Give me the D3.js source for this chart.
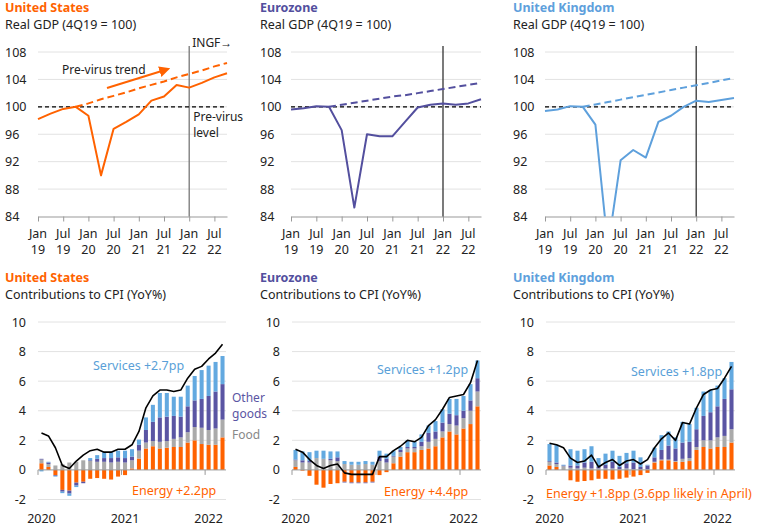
<!DOCTYPE html>
<html lang="en">
<head>
<meta charset="utf-8">
<title>GDP and CPI contributions</title>
<script src="https://d3js.org/d3.v7.min.js"></script>
<style>
    body { margin: 0; background: #fff; }
    svg { font-family: "Noto Sans", sans-serif; }
</style>
</head>
<body>
<div id="chart"></div>
<script>
    // ---- GDP data (quarterly, 4Q19 = 100)
    const quarters = ["1Q19", "2Q19", "3Q19", "4Q19", "1Q20", "2Q20", "3Q20", "4Q20",
        "1Q21", "2Q21", "3Q21", "4Q21", "1Q22", "2Q22", "3Q22", "4Q22"];
    const gdpUS = [98.2, 99.0, 99.7, 100.0, 98.7, 90.0, 96.8, 97.8, 98.9, 100.9, 101.5, 103.2, 102.8, 103.5, 104.3, 104.9];
    const gdpEZ = [99.6, 99.8, 100.1, 100.0, 96.6, 85.3, 96.0, 95.7, 95.7, 97.8, 99.9, 100.3, 100.5, 100.3, 100.5, 101.1];
    const gdpUK = [99.4, 99.6, 100.1, 100.0, 97.4, 79.5, 92.2, 93.7, 92.6, 97.8, 98.7, 100.0, 100.9, 100.7, 101.0, 101.3];
    const trendUS = [null, null, null, 100, 100.5, 101.1, 101.6, 102.1, 102.7, 103.2, 103.7, 104.3, 104.8, 105.3, 105.9, 106.4];
    const trendEZ = [null, null, null, 100, 100.3, 100.6, 100.9, 101.2, 101.5, 101.7, 102.0, 102.3, 102.6, 102.9, 103.2, 103.5];
    const trendUK = [null, null, null, 100, 100.35, 100.7, 101.05, 101.4, 101.75, 102.1, 102.45, 102.8, 103.15, 103.5, 103.85, 104.2];
    const gdpTicks = [84, 88, 92, 96, 100, 104, 108];
    const gdpTickQuarters = ["1Q19", "3Q19", "1Q20", "3Q20", "1Q21", "3Q21", "1Q22", "3Q22"];
    const gdpTickMonths = ["Jan", "Jul", "Jan", "Jul", "Jan", "Jul", "Jan", "Jul"];
    const gdpTickYears = ["19", "19", "20", "20", "21", "21", "22", "22"];
    const forecastStart = "1Q22";

    // ---- CPI contributions (monthly, YoY%)
    const months = ["Jan 20", "Feb 20", "Mar 20", "Apr 20", "May 20", "Jun 20", "Jul 20", "Aug 20", "Sep 20",
        "Oct 20", "Nov 20", "Dec 20", "Jan 21", "Feb 21", "Mar 21", "Apr 21", "May 21", "Jun 21", "Jul 21",
        "Aug 21", "Sep 21", "Oct 21", "Nov 21", "Dec 21", "Jan 22", "Feb 22", "Mar 22"];
    const cpiYearMonths = ["Jan 20", "Jan 21", "Jan 22"];
    const cpiYears = ["2020", "2021", "2022"];
    const cpiTicks = [-2, 0, 2, 4, 6, 8, 10];

    const cpiUS = [2.5, 2.3, 1.5, 0.3, 0.1, 0.6, 1.0, 1.3, 1.4, 1.2, 1.2, 1.4, 1.4, 1.7, 2.6, 4.2, 5.0, 5.4, 5.4, 5.3, 5.4, 6.2, 6.8, 7.0, 7.5, 7.9, 8.5];
    const energyUS = [0.45, 0.2, -0.35, -1.35, -1.4, -0.86, -0.8, -0.6, -0.55, -0.6, -0.65, -0.45, -0.35, 0.1, 0.77, 1.45, 1.6, 1.45, 1.5, 1.55, 1.55, 1.85, 2.0, 1.75, 1.7, 1.7, 2.2];
    const foodUS = [0.25, 0.2, 0.3, 0.4, 0.5, 0.55, 0.65, 0.6, 0.55, 0.55, 0.5, 0.55, 0.5, 0.55, 0.53, 0.4, 0.35, 0.45, 0.45, 0.55, 0.65, 0.7, 0.9, 1.1, 1.0, 1.1, 1.2];
    const goodsUS = [0.05, 0.1, -0.05, -0.12, -0.2, -0.2, -0.1, 0.05, 0.2, 0.25, 0.3, 0.3, 0.3, 0.25, 0.4, 0.85, 1.3, 1.65, 1.65, 1.55, 1.4, 1.75, 1.8, 1.95, 2.3, 2.5, 2.4];
    const servicesUS = [-0.1, 0.05, -0.05, -0.1, -0.15, -0.1, 0.0, 0.15, 0.25, 0.4, 0.4, 0.45, 0.5, 0.5, 0.35, 0.85, 1.15, 1.65, 1.6, 1.3, 1.35, 1.4, 1.65, 1.95, 2.05, 2.0, 1.9];

    const cpiEZ = [1.4, 1.2, 0.7, 0.3, 0.1, 0.3, 0.4, -0.2, -0.3, -0.3, -0.3, -0.3, 0.9, 0.9, 1.3, 1.6, 2.0, 1.9, 2.2, 3.0, 3.4, 4.1, 4.9, 5.0, 5.1, 5.9, 7.4];
    const energyEZ = [0.2, -0.05, -0.4, -1.0, -1.2, -0.95, -0.9, -0.8, -0.85, -0.85, -0.85, -0.8, -0.35, -0.15, 0.45, 0.9, 1.2, 1.2, 1.35, 1.45, 1.6, 2.2, 2.6, 2.4, 2.8, 3.1, 4.3];
    const foodEZ = [0.45, 0.5, 0.5, 0.8, 0.75, 0.65, 0.6, 0.4, 0.35, 0.35, 0.4, 0.35, 0.6, 0.5, 0.45, 0.3, 0.25, 0.25, 0.25, 0.45, 0.5, 0.4, 0.5, 0.6, 0.7, 0.9, 1.0];
    const goodsEZ = [0.05, 0.15, 0.1, 0.0, 0.0, 0.1, 0.25, -0.05, -0.05, -0.05, -0.05, -0.05, 0.3, 0.25, 0.05, 0.15, 0.1, 0.1, 0.3, 0.6, 0.5, 0.6, 0.7, 0.7, 0.5, 0.7, 0.9];
    const servicesEZ = [0.65, 0.6, 0.6, 0.5, 0.55, 0.5, 0.4, 0.2, 0.2, 0.2, 0.2, 0.2, 0.4, 0.35, 0.35, 0.2, 0.45, 0.35, 0.5, 0.5, 0.7, 0.9, 1.0, 1.1, 1.0, 1.1, 1.2];

    const cpiUK = [1.8, 1.7, 1.5, 0.8, 0.5, 0.6, 1.0, 0.2, 0.5, 0.7, 0.3, 0.6, 0.7, 0.4, 0.7, 1.5, 2.1, 2.5, 2.0, 3.2, 3.1, 4.2, 5.1, 5.4, 5.5, 6.2, 7.0];
    const energyUK = [0.3, 0.2, 0.0, -0.7, -0.8, -0.75, -0.7, -0.6, -0.6, -0.65, -0.6, -0.52, -0.45, -0.35, -0.2, 0.5, 0.65, 0.65, 0.55, 0.55, 0.6, 1.35, 1.55, 1.45, 1.55, 1.55, 1.85];
    const foodUK = [0.25, 0.2, 0.25, 0.15, 0.1, 0.15, 0.1, 0.1, 0.1, 0.1, 0.05, 0.1, 0.05, 0.05, 0.05, 0.05, 0.05, 0.05, 0.05, 0.2, 0.2, 0.2, 0.45, 0.55, 0.65, 0.75, 0.9];
    const goodsUK = [0.05, 0.1, 0.05, 0.15, 0.2, 0.35, 0.45, 0.1, 0.25, 0.45, 0.15, 0.35, 0.45, 0.15, 0.25, 0.3, 0.65, 0.95, 0.85, 1.1, 1.1, 1.2, 1.65, 1.9, 2.1, 2.5, 2.7];
    const servicesUK = [1.15, 1.2, 0.05, 1.1, 1.0, 0.9, 1.05, 0.6, 0.75, 0.75, 0.75, 0.7, 0.8, 0.65, 0.05, 0.65, 1.0, 0.95, 0.75, 1.4, 1.2, 1.45, 1.65, 1.5, 1.4, 1.4, 1.85];

    const keys = ["energy", "food", "goods", "services"];
    const barColors = { energy: "#ff6200", food: "#aaaaaa", goods: "#5a55a3", services: "#63a9e0" };

    const w = 757;
    const h = 531;
    const svg = d3.select("#chart").append("svg")
        .attr("width", w)
        .attr("height", h);

    const defs = svg.append("defs");
    defs.append("marker")
        .attr("id", "arrow")
        .attr("viewBox", "0 0 10 10")
        .attr("refX", 5).attr("refY", 5)
        .attr("markerWidth", 5.5).attr("markerHeight", 5.5)
        .attr("orient", "auto")
        .append("path")
        .attr("d", "M0,0 L10,5 L0,10 z")
        .attr("fill", "#ff6200");

    function gdpPanel(p, idx) {
        const g = svg.append("g");
        const x = d3.scalePoint().domain(quarters).range([p.x0, p.x1]);
        const y = d3.scaleLinear().domain([84, 108]).range([216.5, 52]);

        g.append("text").attr("x", p.tx).attr("y", 12)
            .attr("font-size", 12.5).attr("font-weight", "bold").attr("fill", p.color).text(p.name);
        g.append("text").attr("x", p.tx).attr("y", 29)
            .attr("font-size", 12.5).attr("fill", "#222").text("Real GDP (4Q19 = 100)");

        // grid lines
        g.selectAll("line.grid").data(gdpTicks.slice(1)).join("line")
            .attr("class", "grid")
            .attr("x1", p.x0).attr("x2", p.x1)
            .attr("y1", d => y(d)).attr("y2", d => y(d))
            .attr("stroke", "#e2e2e2");

        g.selectAll("text.ylab").data(gdpTicks).join("text")
            .attr("class", "ylab")
            .attr("x", p.tx).attr("y", d => y(d) + 4.5)
            .attr("font-size", 12.5).attr("fill", "#222")
            .text(d => d);

        // x axis
        const ax = g.append("g")
            .attr("transform", `translate(0,${y(84)})`)
            .call(d3.axisBottom(x).tickValues(gdpTickQuarters).tickSize(5).tickSizeOuter(0).tickFormat(""));
        ax.select(".domain").attr("stroke", "#999");
        ax.selectAll(".tick line").attr("stroke", "#999");

        g.selectAll("text.xm").data(gdpTickQuarters).join("text")
            .attr("class", "xm")
            .attr("x", d => x(d)).attr("y", 238)
            .attr("text-anchor", "middle").attr("font-size", 12.5).attr("fill", "#222")
            .text((d, i) => gdpTickMonths[i]);
        g.selectAll("text.xy").data(gdpTickQuarters).join("text")
            .attr("class", "xy")
            .attr("x", d => x(d)).attr("y", 254)
            .attr("text-anchor", "middle").attr("font-size", 12.5).attr("fill", "#222")
            .text((d, i) => gdpTickYears[i]);

        // forecast divider
        g.append("line")
            .attr("x1", x(forecastStart)).attr("x2", x(forecastStart))
            .attr("y1", 46).attr("y2", y(84))
            .attr("stroke", p.divider).attr("stroke-width", 1.3);

        // pre-virus level
        g.append("line")
            .attr("x1", p.x0).attr("x2", p.x1)
            .attr("y1", y(100)).attr("y2", y(100))
            .attr("stroke", "#000").attr("stroke-width", 1.3)
            .attr("stroke-dasharray", "4,3");

        const clipId = "clip" + idx;
        defs.append("clipPath").attr("id", clipId)
            .append("rect").attr("x", p.x0 - 2).attr("y", 40)
            .attr("width", p.x1 - p.x0 + 4).attr("height", y(84) - 40);

        const line = d3.line()
            .defined(d => d != null)
            .x((d, i) => x(quarters[i]))
            .y(d => y(d));

        g.append("path")
            .attr("d", line(p.trend))
            .attr("fill", "none").attr("stroke", p.color)
            .attr("stroke-width", 2).attr("stroke-dasharray", "7,4");

        g.append("path")
            .attr("d", line(p.gdp))
            .attr("clip-path", `url(#${clipId})`)
            .attr("fill", "none").attr("stroke", p.color)
            .attr("stroke-width", 2).attr("stroke-linejoin", "round");

        if (p.notes) {
            g.append("text").attr("x", x(forecastStart) + 3).attr("y", 47)
                .attr("font-size", 12).attr("fill", "#222").text("INGF\u2192");
            g.append("text").attr("x", 62).attr("y", 74)
                .attr("font-size", 12).attr("fill", "#222").text("Pre-virus trend");
            g.append("text").attr("x", x(forecastStart) + 4).attr("y", 121)
                .attr("font-size", 12).attr("fill", "#222").text("Pre-virus");
            g.append("text").attr("x", x(forecastStart) + 4).attr("y", 137)
                .attr("font-size", 12).attr("fill", "#222").text("level");
            g.append("line")
                .attr("x1", 107).attr("y1", 88).attr("x2", 165).attr("y2", 70)
                .attr("stroke", "#ff6200").attr("stroke-width", 2)
                .attr("marker-end", "url(#arrow)");
        }
    }

    function cpiPanel(p) {
        const g = svg.append("g");
        const x = d3.scaleBand().domain(months).range([p.x0, p.x1])
            .paddingInner(0.42).paddingOuter(0.21);
        const y = d3.scaleLinear().domain([-2, 10]).range([499.5, 322]);

        g.append("text").attr("x", p.tx).attr("y", 282)
            .attr("font-size", 12.5).attr("font-weight", "bold").attr("fill", p.color).text(p.name);
        g.append("text").attr("x", p.tx).attr("y", 299)
            .attr("font-size", 12.5).attr("fill", "#222").text("Contributions to CPI (YoY%)");

        g.selectAll("line.grid").data(cpiTicks.filter(d => d != 0)).join("line")
            .attr("class", "grid")
            .attr("x1", p.x0).attr("x2", p.x1)
            .attr("y1", d => y(d)).attr("y2", d => y(d))
            .attr("stroke", "#e2e2e2");

        g.selectAll("text.ylab").data(cpiTicks).join("text")
            .attr("class", "ylab")
            .attr("x", p.ty).attr("y", d => y(d) + 4.5)
            .attr("text-anchor", "end").attr("font-size", 12.5).attr("fill", "#222")
            .text(d => d);

        const rows = months.map((m, i) => ({
            month: m,
            energy: p.energy[i],
            food: p.food[i],
            goods: p.goods[i],
            services: p.services[i]
        }));
        const series = d3.stack().keys(keys).offset(d3.stackOffsetDiverging)(rows);

        g.selectAll("g.layer").data(series).join("g")
            .attr("class", "layer")
            .attr("fill", d => barColors[d.key])
            .selectAll("rect").data(d => d).join("rect")
            .attr("x", d => x(d.data.month))
            .attr("width", x.bandwidth())
            .attr("y", d => y(Math.max(d[0], d[1])))
            .attr("height", d => Math.abs(y(d[0]) - y(d[1])));

        // zero axis
        g.append("line")
            .attr("x1", p.x0).attr("x2", p.x1)
            .attr("y1", y(0)).attr("y2", y(0))
            .attr("stroke", "#999");
        const gap = (x.step() - x.bandwidth()) / 2;
        g.selectAll("line.tick").data(cpiYearMonths).join("line")
            .attr("class", "tick")
            .attr("x1", d => x(d) - gap).attr("x2", d => x(d) - gap)
            .attr("y1", y(0)).attr("y2", y(0) + 5)
            .attr("stroke", "#999");
        g.selectAll("text.xlab").data(cpiYearMonths).join("text")
            .attr("class", "xlab")
            .attr("x", d => x(d) + x.bandwidth() / 2).attr("y", 523)
            .attr("text-anchor", "middle").attr("font-size", 12.5).attr("fill", "#222")
            .text((d, i) => cpiYears[i]);

        g.append("path")
            .attr("d", d3.line()
                .x((d, i) => x(months[i]) + x.bandwidth() / 2)
                .y(d => y(d))(p.cpi))
            .attr("fill", "none").attr("stroke", "#000")
            .attr("stroke-width", 1.6).attr("stroke-linejoin", "round");

        p.labels.forEach(l => {
            g.append("text").attr("x", l.x).attr("y", l.y)
                .attr("font-size", l.size || 12.5).attr("fill", l.color).text(l.text);
        });
    }

    gdpPanel({ name: "United States", color: "#ff6200", divider: "#777", tx: 5, x0: 38, x1: 227, gdp: gdpUS, trend: trendUS, notes: true }, 0);
    gdpPanel({ name: "Eurozone", color: "#534f9e", divider: "#333", tx: 260, x0: 291, x1: 481, gdp: gdpEZ, trend: trendEZ }, 1);
    gdpPanel({ name: "United Kingdom", color: "#5ea0dc", divider: "#333", tx: 513, x0: 545, x1: 734, gdp: gdpUK, trend: trendUK }, 2);

    cpiPanel({
        name: "United States", color: "#ff6200", tx: 5, ty: 26, x0: 38, x1: 226,
        cpi: cpiUS, energy: energyUS, food: foodUS, goods: goodsUS, services: servicesUS,
        labels: [
            { text: "Services +2.7pp", x: 93, y: 370, color: "#5a9fd8" },
            { text: "Other", x: 232, y: 402, color: "#5a55a3", size: 12 },
            { text: "goods", x: 232, y: 418, color: "#5a55a3", size: 12 },
            { text: "Food", x: 232, y: 439, color: "#888", size: 12 },
            { text: "Energy +2.2pp", x: 132, y: 495, color: "#ff6200" }
        ]
    });
    cpiPanel({
        name: "Eurozone", color: "#534f9e", tx: 260, ty: 280, x0: 292, x1: 481,
        cpi: cpiEZ, energy: energyEZ, food: foodEZ, goods: goodsEZ, services: servicesEZ,
        labels: [
            { text: "Services +1.2pp", x: 377, y: 374, color: "#5a9fd8" },
            { text: "Energy +4.4pp", x: 384, y: 496, color: "#ff6200" }
        ]
    });
    cpiPanel({
        name: "United Kingdom", color: "#5ea0dc", tx: 513, ty: 534, x0: 546, x1: 735,
        cpi: cpiUK, energy: energyUK, food: foodUK, goods: goodsUK, services: servicesUK,
        labels: [
            { text: "Services +1.8pp", x: 631, y: 376, color: "#5a9fd8" },
            { text: "Energy +1.8pp (3.6pp likely in April)", x: 546, y: 498, color: "#ff6200" }
        ]
    });
</script>
</body>
</html>
